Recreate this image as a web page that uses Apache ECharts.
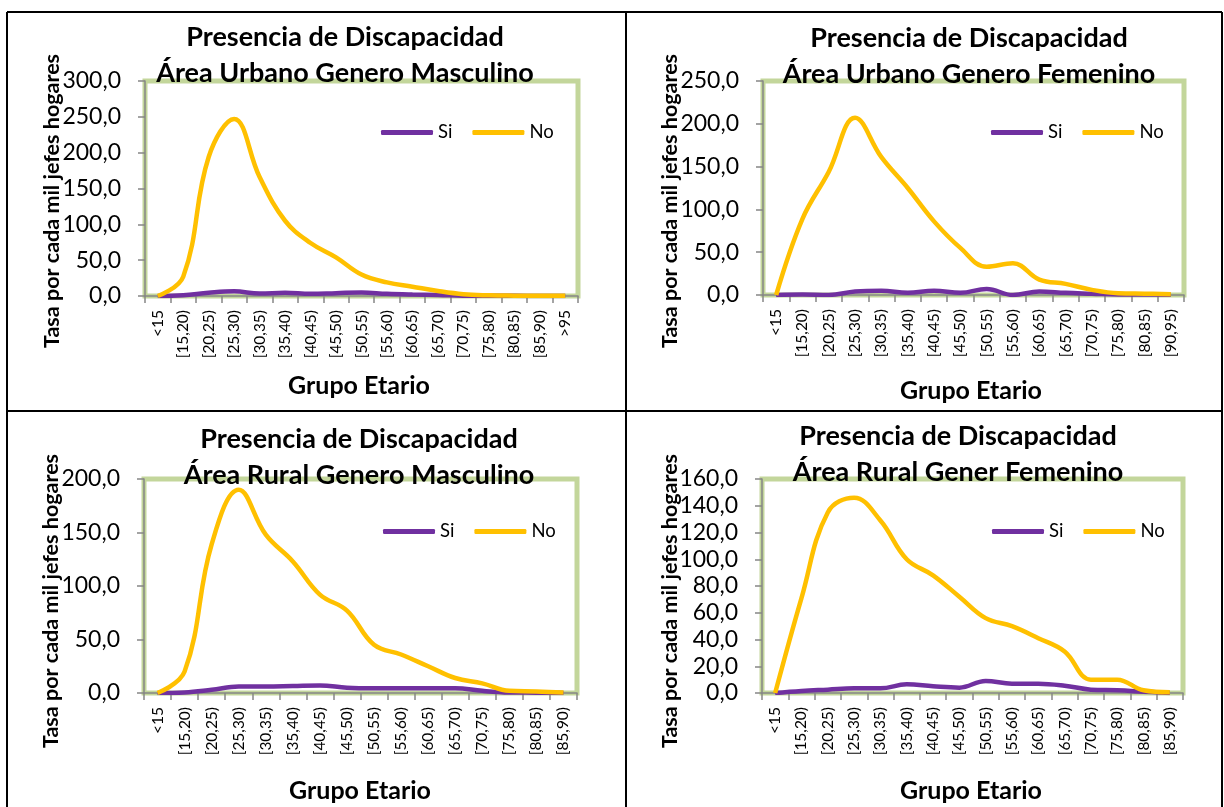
<!DOCTYPE html>
<html>
<head>
<meta charset="utf-8">
<script src="https://cdn.jsdelivr.net/npm/echarts@6/dist/echarts.min.js"></script>
<style>
html,body{margin:0;padding:0;background:#fff;}
#c{width:1224px;height:807px;}
</style>
</head>
<body>
<div id="c"></div>
<script>
// ---- data ----
var catsUM = ['<15','[15,20)','[20,25)','[25,30)','[30,35)','[35,40)','[40,45)','[45,50)','[50,55)','[55,60)','[60,65)','[65,70)','[70,75)','[75,80)','[80,85)','[85,90)','>95'];
var siUM = [0, 1, 4.5, 6.5, 3.5, 4.5, 3, 4, 5, 3, 2, 1.5, 0.5, 0.3, 0.2, 0.1, 0];
var noUM = [0, 27, 194, 247, 166, 105, 74, 54, 30, 19, 13, 7, 2.5, 1, 0.5, 0.3, 0.2];

var catsUF = ['<15','[15,20)','[20,25)','[25,30)','[30,35)','[35,40)','[40,45)','[45,50)','[50,55)','[55,60)','[60,65)','[65,70)','[70,75)','[75,80)','[80,85)','[90,95)'];
var siUF = [0, 0.5, 0, 4, 5, 2.5, 5, 2.5, 7, 0, 4, 2.5, 1.5, 0.5, 0.5, 0.3];
var noUF = [0, 89, 144, 207, 161, 125, 86, 55, 33, 37, 18, 13, 6, 2, 1.5, 1];

var catsRM = ['<15','[15,20)','[20,25)','[25,30)','[30,35)','[35,40)','[40,45)','[45,50)','[50,55)','[55,60)','[60,65)','[65,70)','[70,75)','[75,80)','[80,85)','[85,90)'];
var siRM = [0, 0.5, 3, 6, 6, 6.5, 7, 5, 4.5, 4.5, 4.5, 4.5, 2, 0.5, 0.3, 0];
var noRM = [0, 20, 139, 190, 148, 123, 92, 77, 45, 36, 25, 14, 9, 2, 1.5, 0.5];

var catsRF = ['<15','[15,20)','[20,25)','[25,30)','[30,35)','[35,40)','[40,45)','[45,50)','[50,55)','[55,60)','[60,65)','[65,70)','[70,75)','[75,80)','[80,85)','[85,90)'];
var siRF = [0, 1.5, 2.5, 3.5, 3.5, 6.5, 5, 4, 9, 7, 7, 5.5, 2.5, 2, 1, 0];
var noRF = [0, 71, 135, 146, 129, 100, 88, 72, 56, 50, 41, 31, 10, 10, 2, 0.5];

var titlesL1 = ['Presencia de Discapacidad','Presencia de Discapacidad','Presencia de Discapacidad','Presencia de Discapacidad'];
var titlesL2 = ['Área Urbano Genero Masculino','Área Urbano Genero Femenino','Área Rural Genero Masculino','Área Rural Gener Femenino'];
var yMax = [300, 250, 200, 160];
var yInterval = [50, 50, 50, 20];
var yAxisTitle = 'Tasa por cada mil jefes hogares';
var xAxisTitle = 'Grupo Etario';
var seriesNames = ['Si','No'];

// ---- layout ----
var FONT = 'Lato, "Open Sans", sans-serif';
var PURPLE = '#7030A0', YELLOW = '#FFC000', GREEN = '#C3D69B', AXIS = '#868686';
var grids = [
  {left:145, top:81, width:433, height:215},
  {left:763, top:81, width:421, height:214},
  {left:144, top:479, width:433, height:214},
  {left:762, top:479, width:421, height:214}
];
var titleCenters = [[340, 14], [964, 15], [354, 416], [953, 413]];
var yTitlePos = [[52, 201], [670, 201], [51, 601], [670, 601]];
var xTitlePos = [[359, 386], [971, 391], [360, 791], [971, 791]];
var legendPos = [[381, 123], [991, 123], [383, 522], [992, 522]];

var cats = [catsUM, catsUF, catsRM, catsRF];
var sis = [siUM, siUF, siRM, siRF];
var nos = [noUM, noUF, noRM, noRF];

var option = {
  backgroundColor: '#fff',
  animation: false,
  textStyle: {fontFamily: FONT},
  title: [], legend: [], grid: [], xAxis: [], yAxis: [], series: [], graphic: []
};

function fmt(v){ return v.toFixed(1).replace('.', ','); }

for (var i = 0; i < 4; i++) {
  var g = grids[i];
  option.grid.push({left:g.left, top:g.top, width:g.width, height:g.height, show:true,
    borderColor:GREEN, borderWidth:5, backgroundColor:'transparent', containLabel:false});
  option.xAxis.push({type:'category', gridIndex:i, data:cats[i], boundaryGap:true,
    axisLine:{show:true, lineStyle:{color:AXIS, width:1.5}},
    axisTick:{show:true, interval:0, length:7, lineStyle:{color:AXIS, width:1.5}},
    axisLabel:{interval:0, rotate:90, fontSize:15.5, color:'#000', margin:14, fontFamily:FONT},
    splitLine:{show:false}});
  option.yAxis.push({type:'value', gridIndex:i, min:0, max:yMax[i], interval:yInterval[i],
    axisLine:{show:true, lineStyle:{color:AXIS, width:1.5}},
    axisTick:{show:true, length:7, lineStyle:{color:AXIS, width:1.5}},
    axisLabel:{fontSize:23, color:'#000', margin:24, formatter:fmt, fontFamily:FONT},
    splitLine:{show:false}});
  option.series.push({name:seriesNames[0], type:'line', xAxisIndex:i, yAxisIndex:i, data:sis[i],
    smooth:0.4, symbol:'none', lineStyle:{color:PURPLE, width:4.5}, itemStyle:{color:PURPLE}, z:3});
  option.series.push({name:seriesNames[1], type:'line', xAxisIndex:i, yAxisIndex:i, data:nos[i],
    smooth:0.4, symbol:'none', lineStyle:{color:YELLOW, width:4.5}, itemStyle:{color:YELLOW}, z:4});
  option.title.push({text:titlesL1[i] + '\n' + titlesL2[i], left:titleCenters[i][0], top:titleCenters[i][1],
    textAlign:'center', z:10,
    textStyle:{fontFamily:FONT, fontWeight:'bold', fontSize:27, lineHeight:36, color:'#000'}});
  option.legend.push({data:seriesNames, left:legendPos[i][0], top:legendPos[i][1], padding:0, icon:'roundRect',
    itemWidth:52, itemHeight:5, itemGap:20, textStyle:{fontSize:18.5, color:'#000', fontFamily:FONT}});
  option.graphic.push({type:'text', x:yTitlePos[i][0], y:yTitlePos[i][1], rotation:Math.PI/2, z:10,
    style:{text:yAxisTitle, fontFamily:FONT, fontWeight:'bold', fontSize:21.5, fill:'#000', align:'center', verticalAlign:'middle'}});
  option.graphic.push({type:'text', x:xTitlePos[i][0], y:xTitlePos[i][1], z:10,
    style:{text:xAxisTitle, fontFamily:FONT, fontWeight:'bold', fontSize:25, fill:'#000', align:'center', verticalAlign:'middle'}});
}
// table borders
var borderLines = [[7,12,1222,12],[7,411,1222,411],[7,12,7,807],[626,12,626,807],[1222,12,1222,807]];
borderLines.forEach(function(l){
  option.graphic.push({type:'line', shape:{x1:l[0],y1:l[1],x2:l[2],y2:l[3]}, z:20,
    style:{stroke:'#000', lineWidth:2}});
});

var chart = echarts.init(document.getElementById('c'));
chart.setOption(option);
</script>
</body>
</html>
